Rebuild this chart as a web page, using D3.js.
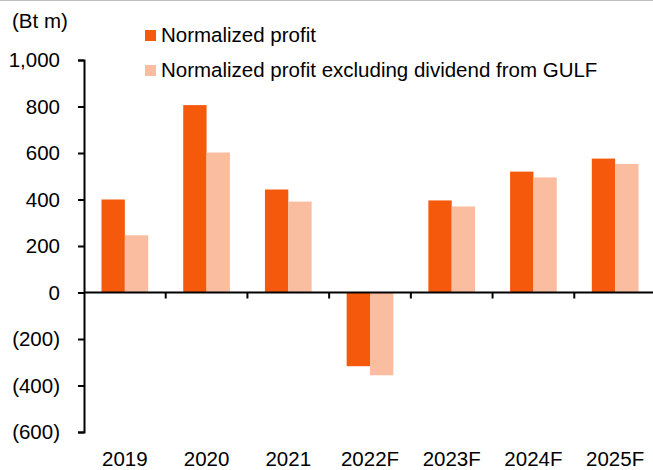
<!DOCTYPE html>
<html>
<head>
<meta charset="utf-8">
<script src="https://cdn.jsdelivr.net/npm/d3@7"></script>
<style>
  body { margin: 0; background: #fff; }
  svg { display: block; font-family: "Liberation Sans", Arial, sans-serif; }
</style>
</head>
<body>
<div id="chart"></div>
<script>
// chart data
const years = ["2019", "2020", "2021", "2022F", "2023F", "2024F", "2025F"];
const normProfit = [400, 806, 443, -317, 396, 520, 576];
const normExGulf = [246, 602, 391, -356, 370, 495, 553];
const seriesNames = ["Normalized profit", "Normalized profit excluding dividend from GULF"];
const seriesColors = ["#f55a0c", "#fbbd9f"];
const yTicks = [-600, -400, -200, 0, 200, 400, 600, 800, 1000];

const width = 653, height = 470;
const plot = { left: 84, right: 656, top: 60, bottom: 432 };
const fontSize = 20.5;

const svg = d3.select("#chart")
    .append("svg")
    .attr("width", width)
    .attr("height", height);

// thin grey line at the very top
svg.append("line")
    .attr("x1", 0).attr("x2", width)
    .attr("y1", 0.5).attr("y2", 0.5)
    .attr("stroke", "#c0c0c0");

const y = d3.scaleLinear()
    .domain([-600, 1000])
    .range([plot.bottom, plot.top]);

const x = d3.scaleBand()
    .domain(years)
    .range([plot.left, plot.right])
    .paddingInner(0)
    .paddingOuter(0);

// two bars side by side in the middle of each category
const inner = d3.scaleBand()
    .domain([0, 1])
    .range([0, x.bandwidth()])
    .paddingOuter(0.75)
    .paddingInner(0);

// bars
const rows = years.map((yr, i) => ({ yr, vals: [normProfit[i], normExGulf[i]] }));
const groups = svg.append("g")
    .selectAll("g")
    .data(rows)
    .enter()
    .append("g")
    .attr("transform", d => `translate(${x(d.yr)},0)`);

groups.selectAll("rect")
    .data(d => d.vals.map((v, k) => ({ v, k })))
    .enter()
    .append("rect")
    .attr("x", d => inner(d.k))
    .attr("width", inner.bandwidth())
    .attr("y", d => y(Math.max(0, d.v)))
    .attr("height", d => Math.abs(y(d.v) - y(0)))
    .attr("fill", d => seriesColors[d.k]);

// y axis
const fmt = v => v < 0 ? `(${d3.format(",")(-v)})` : d3.format(",")(v);
const yAxis = svg.append("g")
    .attr("transform", `translate(${plot.left},0)`)
    .call(d3.axisLeft(y).tickValues(yTicks).tickFormat(fmt).tickSize(6).tickSizeOuter(6).tickPadding(18));
yAxis.select(".domain").attr("stroke", "#000").attr("stroke-width", 2);
yAxis.selectAll(".tick line").attr("stroke", "#000").attr("stroke-width", 2);
yAxis.selectAll("text")
    .attr("font-size", fontSize)
    .attr("fill", "#000")
    .attr("font-family", "Liberation Sans, Arial, sans-serif");

// x axis at zero with ticks between categories
const xAxis = svg.append("g")
    .attr("transform", `translate(0,${y(0)})`);
xAxis.append("line")
    .attr("x1", plot.left).attr("x2", plot.right)
    .attr("stroke", "#000").attr("stroke-width", 2);
xAxis.selectAll(".sep")
    .data(years.slice(1))
    .enter()
    .append("line")
    .attr("x1", d => x(d)).attr("x2", d => x(d))
    .attr("y1", 0).attr("y2", 6)
    .attr("stroke", "#000").attr("stroke-width", 2);

// category labels at the bottom
svg.append("g")
    .selectAll("text")
    .data(years)
    .enter()
    .append("text")
    .attr("x", d => x(d) + x.bandwidth() / 2)
    .attr("y", 466)
    .attr("text-anchor", "middle")
    .attr("font-size", fontSize)
    .text(d => d);

// unit label
svg.append("text")
    .attr("x", 12).attr("y", 28)
    .attr("font-size", fontSize)
    .text("(Bt m)");

// legend
const legend = svg.append("g")
    .selectAll("g")
    .data(seriesNames)
    .enter()
    .append("g")
    .attr("transform", (d, i) => `translate(145,${30 + i * 35})`);
legend.append("rect")
    .attr("width", 11).attr("height", 11)
    .attr("fill", (d, i) => seriesColors[i]);
legend.append("text")
    .attr("x", 16).attr("y", 11.5)
    .attr("font-size", fontSize)
    .text(d => d);
</script>
</body>
</html>
